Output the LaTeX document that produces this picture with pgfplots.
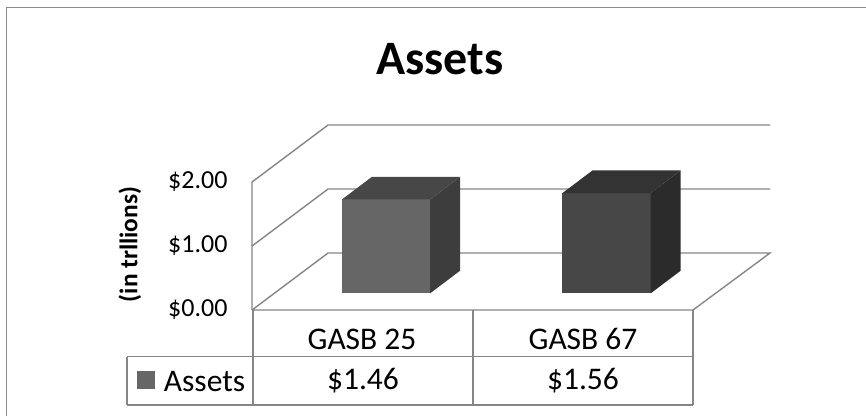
\documentclass[border=0pt]{standalone}
\usepackage{fontspec}
\setmainfont{Carlito}
\usepackage{pgfplots}
\pgfplotsset{compat=1.18}

\definecolor{framegray}{HTML}{8C8C8C}
\definecolor{linegray}{HTML}{868686}

\begin{document}
\begin{tikzpicture}
\path[use as bounding box] (0,0) rectangle (866pt,416pt);
% pixel axis: frame, walls, floor and data table
\begin{axis}[
    at={(0,0)}, anchor=south west, scale only axis,
    x=1pt, y=1pt, y dir=reverse,
    xmin=0, xmax=866, ymin=0, ymax=416,
    hide axis, clip=false]
  \addplot[framegray, line width=1.6pt] coordinates {(6.5,416) (6.5,7.5) (866,7.5)};
  % left wall
  \addplot[linegray, line width=1.4pt] coordinates {(252,310) (252,182) (328,125) (770,125)};
  \addplot[linegray, line width=1.4pt] coordinates {(252,246) (328,189) (770,189)};
  \addplot[linegray, line width=1.4pt] coordinates {(252,310) (328,253) (770,253) (693,310) (253,310)};
  % table
  \addplot[linegray, line width=1.4pt] coordinates {(253,310) (253,405)};
  \addplot[linegray, line width=1.4pt] coordinates {(473,310) (473,405)};
  \addplot[linegray, line width=1.4pt] coordinates {(693,310) (693,405)};
  \addplot[linegray, line width=1.4pt] coordinates {(127,356.5) (693,356.5)};
  \addplot[linegray, line width=1.4pt] coordinates {(127,405) (693,405)};
  \addplot[linegray, line width=1.4pt] coordinates {(127,356.5) (127,405)};
  \addplot[fill=black!60, draw=none] coordinates {(137,371) (155,371) (155,389) (137,389)} -- cycle;
  \node[font=\fontsize{48}{52}\selectfont\bfseries] at (axis cs:440,59) {Assets};
  \node[font=\fontsize{31.5}{36}\selectfont] at (axis cs:362,339) {GASB 25};
  \node[font=\fontsize{31.5}{36}\selectfont] at (axis cs:583,339) {GASB 67};
  \node[font=\fontsize{31.5}{36}\selectfont] at (axis cs:204.5,381) {Assets};
  \node[font=\fontsize{31.5}{36}\selectfont] at (axis cs:363,381) {\$1.46};
  \node[font=\fontsize{31.5}{36}\selectfont] at (axis cs:583,381) {\$1.56};
\end{axis}
% value axis, only for the tick labels and the title of the axis
\begin{axis}[
    at={(252pt,106pt)}, anchor=south west, scale only axis,
    x=1pt, y=64pt,
    xmin=0, xmax=518, ymin=0, ymax=2,
    axis y line*=left, axis x line=none, axis line style={draw=none},
    xtick=\empty, ytick={0,1,2},
    yticklabels={\$0.00,\$1.00,\$2.00},
    major tick length=0pt,
    yticklabel style={font=\fontsize{26}{30}\selectfont, xshift=-21pt},
    ylabel={(in trllions)},
    every axis y label/.style={at={(axis description cs:-0.236,0.512)}, rotate=90, anchor=center,
      font=\fontsize{25.4}{30}\selectfont\bfseries}]
\end{axis}
% bars, value 0 is the front edge of the bars
\begin{axis}[
    at={(275.7pt,122.7pt)}, anchor=south west, scale only axis,
    x=220.6pt, y=64.25pt,
    xmin=-0.5, xmax=1.5, ymin=0, ymax=2,
    hide axis, clip=false]
  \addplot[ybar, bar width=88.4pt, fill=black!60, draw=none] coordinates {(0,1.46)};
  \addplot[fill=black!76, draw=none] coordinates {(0.2,0) (0.336,0.352) (0.336,1.812) (0.2,1.46)} -- cycle;
  \addplot[fill=black!72, draw=none] coordinates {(-0.2,1.46) (-0.064,1.812) (0.336,1.812) (0.2,1.46)} -- cycle;
  \addplot[ybar, bar width=88.4pt, fill=black!72, draw=none] coordinates {(1,1.56)};
  \addplot[fill=black!83, draw=none] coordinates {(1.2,0) (1.336,0.352) (1.336,1.912) (1.2,1.56)} -- cycle;
  \addplot[fill=black!80, draw=none] coordinates {(0.8,1.56) (0.936,1.912) (1.336,1.912) (1.2,1.56)} -- cycle;
\end{axis}
\end{tikzpicture}
\end{document}
